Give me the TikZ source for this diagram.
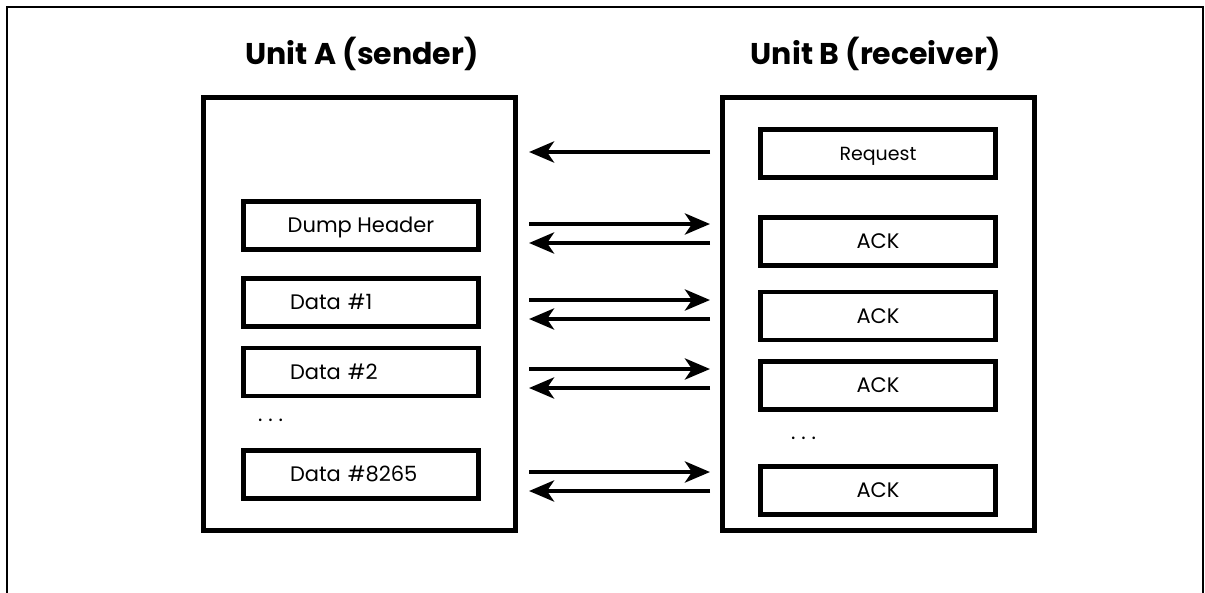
\documentclass[tikz,border=0pt]{standalone}
\usepackage{fontspec}
\setmainfont{Poppins}
\usetikzlibrary{arrows.meta}
\begin{document}
\begin{tikzpicture}[x=1pt,y=-1pt,
  unitbox/.style={draw,line width=5pt,minimum width=312pt,minimum height=433pt,inner sep=0pt},
  msgbox/.style={draw,line width=4.8pt,minimum width=235pt,minimum height=48pt,inner sep=0pt,
    font=\fontsize{21}{24}\selectfont,text height=14.6pt,text depth=0pt},
  databox/.style={msgbox,text width=142pt,align=left,inner xsep=46.5pt},
  title/.style={font=\fontsize{30}{34}\selectfont\bfseries,anchor=base},
  dots/.style={font=\fontsize{21}{24}\selectfont,anchor=base west,inner sep=0pt},
  msg/.style={line width=4.6pt,-{Stealth[length=25pt,width=21pt,inset=7pt]}}
]
\useasboundingbox (0,0) rectangle (1205,592);
\draw[line width=2.7pt] (7,600) -- (7,7) -- (1203,7) -- (1203,600);

\node[title] (ta) at (362,64) {Unit A (sender)};
\node[title] (tb) at (876,64) {Unit B (receiver)};

\node[unitbox] (A) at (359.5,313.5) {};
\node[unitbox] (B) at (878,313.5) {};

\node[msgbox] (dh) at (361,225.5) {Dump Header};
\node[databox] (d1) at (361,302.5) {Data \#1};
\node[databox] (d2) at (361,372) {Data \#2};
\node[dots] (da) at (258,421) {.\kern5.8pt.\kern5.8pt.};
\node[databox] (dn) at (361,474.5) {Data \#8265};

\node[msgbox,font=\fontsize{19}{22}\selectfont,text height=13.3pt] (rq) at (878,153.5) {Request};
\node[msgbox] (k0) at (878,241.5) {ACK};
\node[msgbox] (k1) at (878,316) {ACK};
\node[msgbox] (k2) at (878,385.5) {ACK};
\node[dots] (db) at (791,439) {.\kern5.8pt.\kern5.8pt.};
\node[msgbox] (kn) at (878,490.5) {ACK};

\coordinate (rL) at (529,152); \coordinate (rR) at (710,152);
\coordinate (h1L) at (529,224); \coordinate (h1R) at (710,224);
\coordinate (h2L) at (529,243); \coordinate (h2R) at (710,243);
\coordinate (a1L) at (529,300); \coordinate (a1R) at (710,300);
\coordinate (a2L) at (529,319); \coordinate (a2R) at (710,319);
\coordinate (b1L) at (529,369); \coordinate (b1R) at (710,369);
\coordinate (b2L) at (529,388); \coordinate (b2R) at (710,388);
\coordinate (c1L) at (529,472); \coordinate (c1R) at (710,472);
\coordinate (c2L) at (529,491); \coordinate (c2R) at (710,491);

\draw[msg] (rR) -- (rL);
\draw[msg] (h1L) -- (h1R);
\draw[msg] (h2R) -- (h2L);
\draw[msg] (a1L) -- (a1R);
\draw[msg] (a2R) -- (a2L);
\draw[msg] (b1L) -- (b1R);
\draw[msg] (b2R) -- (b2L);
\draw[msg] (c1L) -- (c1R);
\draw[msg] (c2R) -- (c2L);
\end{tikzpicture}
\end{document}
